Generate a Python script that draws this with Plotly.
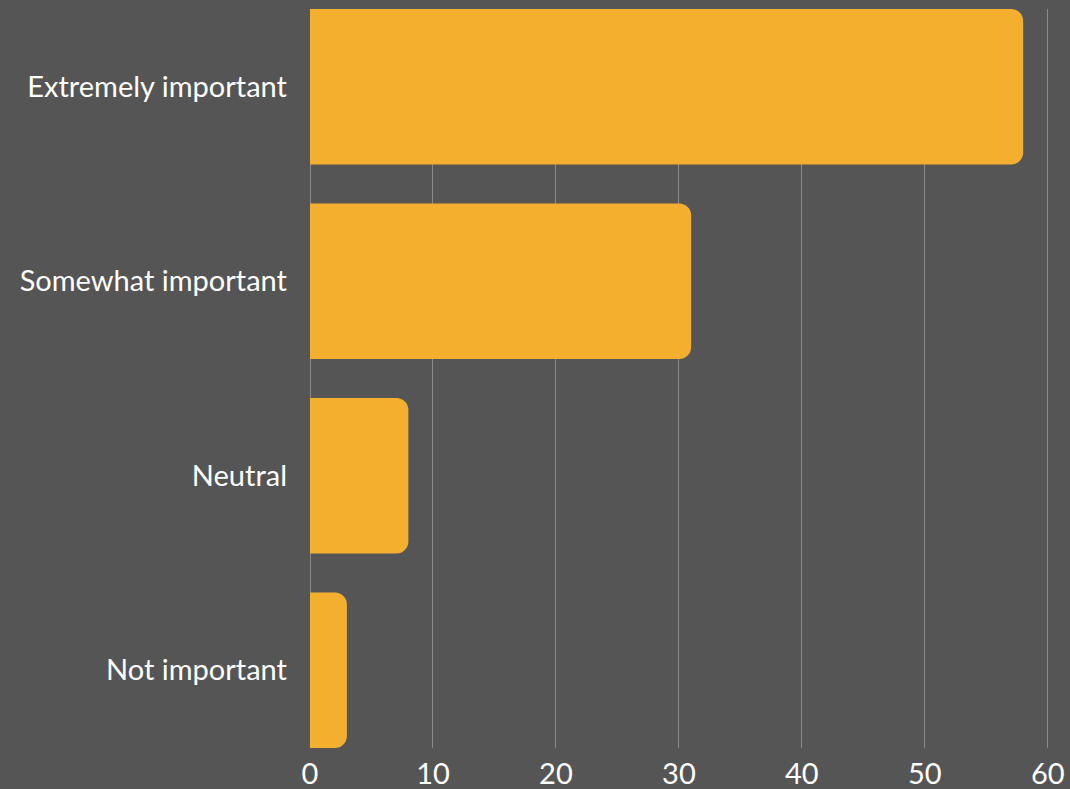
import plotly.graph_objects as go

categories = ["Extremely important", "Somewhat important", "Neutral", "Not important"]
values = [58, 31, 8, 3]
x_ticks = [0, 10, 20, 30, 40, 50, 60]

bg = "#555555"
bar_color = "#F5AF2F"

fig = go.Figure(go.Bar(
    y=categories,
    x=values,
    orientation="h",
    marker=dict(color=bar_color, line=dict(width=0)),
    width=0.8,
))

fig.update_layout(
    width=1070,
    height=789,
    paper_bgcolor=bg,
    plot_bgcolor=bg,
    margin=dict(l=310, r=21, t=9, b=41),
    barcornerradius=12,
    font=dict(family="Lato", color="white", size=29),
    showlegend=False,
    xaxis=dict(
        range=[0, 60.1],
        tickvals=x_ticks,
        showgrid=True,
        gridcolor="#8a8a8a",
        gridwidth=1,
        zeroline=True,
        zerolinecolor="#8a8a8a",
        zerolinewidth=1,
        showline=False,
        ticks="",
        ticklabelstandoff=6,
        automargin=False,
        tickfont=dict(size=29, color="white"),
    ),
    yaxis=dict(
        categoryorder="array",
        categoryarray=categories,
        range=[3.4, -0.4],
        showgrid=False,
        zeroline=False,
        showline=False,
        ticks="",
        ticklabelstandoff=22,
        automargin=False,
        tickfont=dict(size=29, color="white"),
    ),
)

fig.write_html(
    "out.html",
    config={"displayModeBar": False},
    post_script="document.body.style.margin='0';document.body.style.background='#555555';document.body.style.overflow='hidden';",
)
